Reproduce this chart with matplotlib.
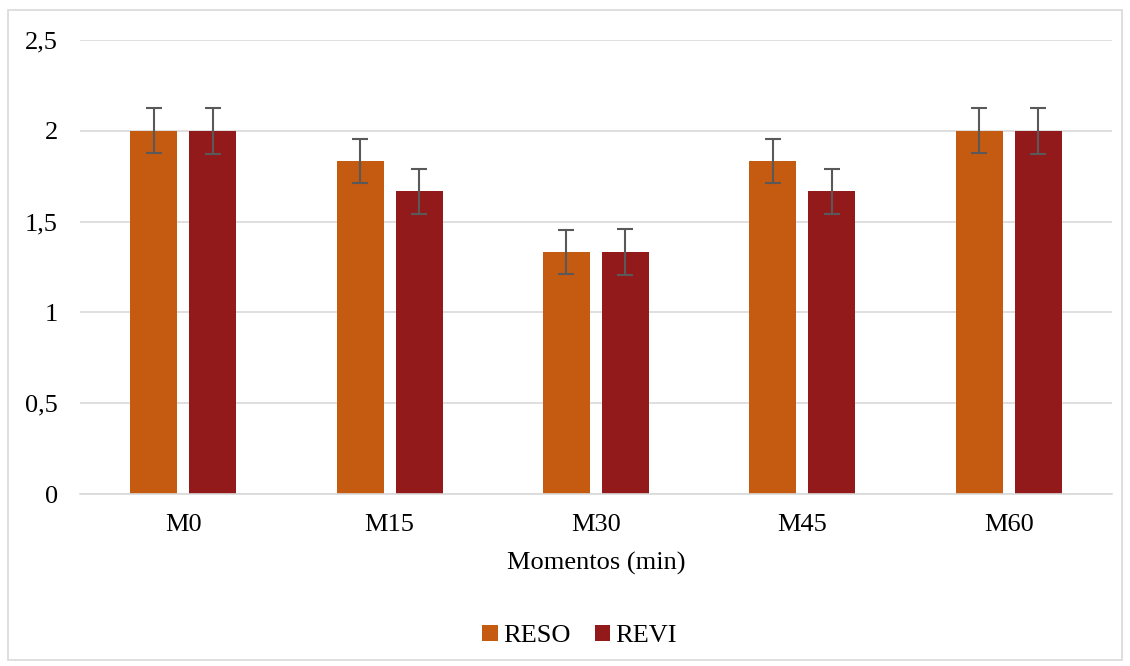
import numpy as np
import matplotlib
matplotlib.use('Agg')
import matplotlib.pyplot as plt
from matplotlib.patches import Rectangle

plt.rcParams['font.family'] = ['Liberation Serif', 'DejaVu Serif']

momentos = ['M0', 'M15', 'M30', 'M45', 'M60']
reso = [2.0, 1.833, 1.333, 1.833, 2.0]
revi = [2.0, 1.667, 1.333, 1.667, 2.0]
reso_err = [0.123, 0.123, 0.123, 0.123, 0.123]
revi_err = [0.125, 0.125, 0.125, 0.125, 0.125]
yticks = [0, 0.5, 1, 1.5, 2, 2.5]
ylabels = ['0', '0,5', '1', '1,5', '2', '2,5']

fig = plt.figure(figsize=(11.3, 6.66), dpi=100)
ax = fig.add_axes([0.0708, 0.258, 0.9132, 0.682])

x = np.arange(len(momentos))
w = 0.228
off = 0.143
ekw = dict(ecolor='#595959', elinewidth=1.5, capsize=5.5, capthick=1.5)
ax.bar(x - off, reso, w, color='#C55A11', yerr=reso_err, error_kw=ekw, label='RESO', zorder=2)
ax.bar(x + off, revi, w, color='#931A1B', yerr=revi_err, error_kw=ekw, label='REVI', zorder=2)

ax.set_xlim(-0.5, len(momentos) - 0.5)
ax.set_ylim(0, 2.5)
ax.set_yticks(yticks)
ax.set_yticklabels(ylabels)
ax.set_xticks(x)
ax.set_xticklabels(momentos)
ax.tick_params(axis='both', length=0, labelsize=19, colors='#000000')
ax.tick_params(axis='y', pad=16)
ax.tick_params(axis='x', pad=14)
ax.yaxis.grid(True, color='#D9D9D9', linewidth=1.2, zorder=0)
ax.set_axisbelow(True)
for s in ['top', 'right', 'left']:
    ax.spines[s].set_visible(False)
ax.spines['bottom'].set_color('#D9D9D9')
ax.spines['bottom'].set_linewidth(1.2)

ax.set_xlabel('Momentos (min)', fontsize=19, labelpad=12)

fig.legend(loc='center', bbox_to_anchor=(0.513, 0.045), ncol=2, frameon=False,
           fontsize=19, handlelength=0.6, handleheight=0.6, handletextpad=0.2,
           columnspacing=0.9)

fig.patches.append(Rectangle((0.007, 0.009), 0.986, 0.976, transform=fig.transFigure,
                             fill=False, edgecolor='#D9D9D9', linewidth=1.2))

fig.savefig('out.png', dpi=100)
